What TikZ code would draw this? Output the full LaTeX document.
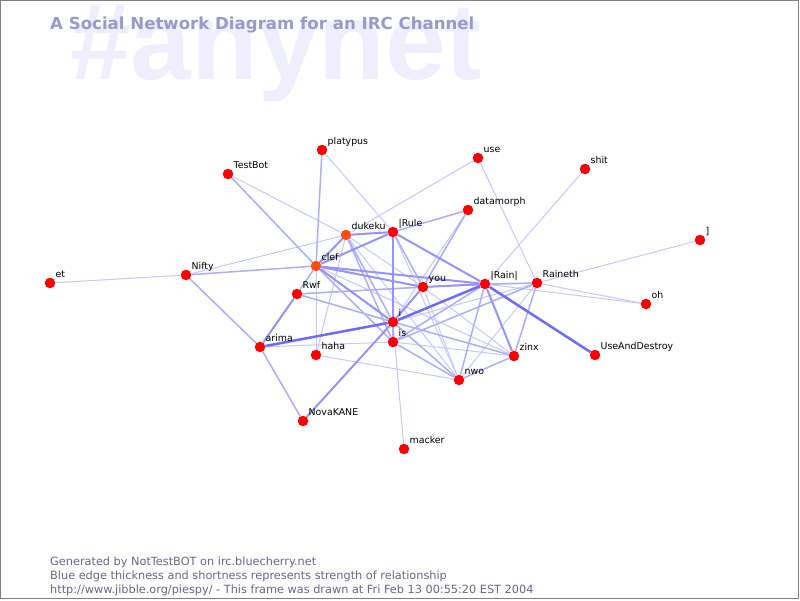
\documentclass[tikz,border=0pt]{standalone}
\usepackage{fontspec}
\setmainfont{DejaVu Sans}
\newfontfamily\ghostfont{Liberation Sans}
\usetikzlibrary{backgrounds}
\definecolor{titleblue}{HTML}{9999CC}
\definecolor{ghost}{HTML}{EEEEFC}
\definecolor{footgray}{HTML}{66668F}
\definecolor{nickred}{HTML}{FF0000}
\definecolor{hotred}{HTML}{FF4A10}

\begin{document}
\begin{tikzpicture}[x=1pt, y=-1pt,
  nick/.style={
    circle, fill=nickred, inner sep=0pt, minimum size=10.5pt,
    label={[nicklbl]45:{#1}}
  },
  hotnick/.style={nick=#1, fill=hotred},
  nicklbl/.style={
    anchor=base west, label distance=2.3pt, inner sep=0pt,
    font=\fontsize{9.4}{11}\selectfont
  },
  foot/.style={
    anchor=base west, inner sep=0pt, text=footgray,
    font=\fontsize{11.3}{13}\selectfont
  },
  e1/.style={blue!22, line width=1pt},
  e2/.style={blue!32, line width=1.5pt},
  e3/.style={blue!42, line width=2pt},
  e4/.style={blue!58, line width=2.5pt},
]
\useasboundingbox (0,0) rectangle (800,600);
\draw[gray, line width=1pt] (0.5,0.5) rectangle (798.5,598.5);

% header
\node[anchor=base west, inner sep=0pt, text=ghost,
  font=\ghostfont\bfseries\fontsize{109}{109}\selectfont]
  (chan) at (70,79) {\#anynet};
\node[anchor=base west, inner sep=0pt, text=titleblue,
  font=\bfseries\fontsize{16.6}{18}\selectfont]
  (title) at (50,29) {A Social Network Diagram for an IRC Channel};

% nicks
\node[nick=platypus]      (platypus)  at (322,150) {};
\node[nick=TestBot]       (testbot)   at (228,174) {};
\node[nick=use]           (use)       at (478,158) {};
\node[nick=shit]          (shit)      at (585,169) {};
\node[nick=datamorph]     (datamorph) at (468,210) {};
\node[hotnick=dukeku]     (dukeku)    at (346,235) {};
\node[nick=|Rule]         (rule)      at (393,232) {};
\node[nick={]}]           (brack)     at (700,240) {};
\node[nick=et]            (et)        at (50,283)  {};
\node[nick=Nifty]         (nifty)     at (186,275) {};
\node[hotnick=clef]       (clef)      at (316,266) {};
\node[nick=you]           (you)       at (423,287) {};
\node[nick=|Rain|]        (rain)      at (485,284) {};
\node[nick=Raineth]       (raineth)   at (537,283) {};
\node[nick=oh]            (oh)        at (646,304) {};
\node[nick=Rwf]           (rwf)       at (297,294) {};
\node[nick=i]             (i)         at (393,322) {};
\node[nick=arima]         (arima)     at (260,347) {};
\node[nick=is]            (is)        at (393,342) {};
\node[nick=haha]          (haha)      at (316,355) {};
\node[nick=zinx]          (zinx)      at (514,356) {};
\node[nick=UseAndDestroy] (uad)       at (595,355) {};
\node[nick=nwo]           (nwo)       at (459,380) {};
\node[nick=NovaKANE]      (nova)      at (303,421) {};
\node[nick=macker]        (macker)    at (404,449) {};

% relationships, weakest first
\begin{scope}[on background layer]
\foreach \a/\b in {et/nifty, nifty/dukeku, testbot/dukeku, platypus/rule,
    use/dukeku, use/raineth, shit/rain, brack/raineth, oh/raineth, oh/rain,
    haha/nwo, haha/clef, haha/dukeku, arima/is, macker/i, zinx/is, zinx/you,
    nwo/you, nwo/raineth, nwo/dukeku, rule/nwo, raineth/you, raineth/i,
    datamorph/i, rule/is, dukeku/you, zinx/clef, rwf/rain}
  \draw[e1] (\a) -- (\b);
\foreach \a/\b in {nifty/arima, nifty/clef, arima/nova, rwf/clef, rwf/i,
    rwf/you, raineth/zinx, zinx/nwo, i/nwo, is/nwo, rain/nwo, zinx/i,
    rule/you, dukeku/i, clef/is, platypus/clef, testbot/clef, raineth/rain,
    datamorph/you, datamorph/rule, rain/is, i/is, raineth/is, dukeku/is}
  \draw[e2] (\a) -- (\b);
\foreach \a/\b in {arima/rwf, rule/i, rule/rain, clef/i, clef/rain,
    clef/dukeku, dukeku/rule, clef/you, rain/you, rain/zinx, i/you, nova/i,
    clef/rule}
  \draw[e3] (\a) -- (\b);
\foreach \a/\b in {rain/uad, rain/i, arima/i}
  \draw[e4] (\a) -- (\b);
\end{scope}

% footer
\node[foot] (gen)  at (50,565) {Generated by NotTestBOT on irc.bluecherry.net};
\node[foot] (key)  at (50,579) {Blue edge thickness and shortness represents strength of relationship};
\node[foot] (link) at (50,593) {http://www.jibble.org/piespy/ - This frame was drawn at Fri Feb 13 00:55:20 EST 2004};
\end{tikzpicture}
\end{document}
